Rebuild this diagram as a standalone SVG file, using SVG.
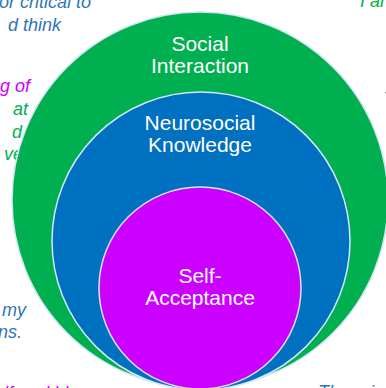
<svg xmlns="http://www.w3.org/2000/svg" width="386" height="388" viewBox="0 0 386 388">
  <style>
    .ring { stroke: #d6e6f4; stroke-width: 1.5; }
    .label { font-family: "Liberation Sans", Arial, sans-serif; font-size: 21px; fill: #ffffff; text-anchor: middle; }
    .side { font-family: "Liberation Sans", Arial, sans-serif; font-size: 18px; font-style: italic; }
    .blue { fill: #2e75b6; }
    .green { fill: #00b050; }
    .magenta { fill: #cc00ff; }
    .end { text-anchor: end; }
  </style>
  <rect width="386" height="388" fill="#ffffff"/>

  <!-- surrounding notes, cut by the frame -->
  <g id="notes">
    <text class="side blue end" x="91" y="8">or critical to</text>
    <text class="side blue end" x="61" y="31">d think</text>
    <text class="side green" x="360" y="7">I an</text>
    <text class="side magenta end" x="30" y="92">g of</text>
    <text class="side green end" x="28" y="115">at</text>
    <text class="side green end" x="22" y="138">d</text>
    <text class="side green end" x="23" y="160">ve</text>
    <text class="side blue" x="383.5" y="105">T</text>
    <text class="side blue end" x="26" y="316">my</text>
    <text class="side blue end" x="22" y="338">ns.</text>
    <text class="side magenta" x="-6" y="399">elf-and ldr</text>
    <text class="side blue" x="318" y="398">There is</text>
  </g>

  <g id="social-interaction">
    <circle class="ring" cx="200" cy="200" r="188" fill="#00b050"/>
    <text class="label" x="200" y="51">Social</text>
    <text class="label" x="200" y="73">Interaction</text>
  </g>

  <g id="neurosocial-knowledge">
    <circle class="ring" cx="201" cy="241" r="149" fill="#0070c0"/>
    <text class="label" x="200" y="130">Neurosocial</text>
    <text class="label" x="200" y="152">Knowledge</text>
  </g>

  <g id="self-acceptance">
    <circle class="ring" cx="200" cy="288" r="101" fill="#cc00ff"/>
    <text class="label" x="200" y="283">Self-</text>
    <text class="label" x="200" y="305">Acceptance</text>
  </g>

  <g id="connectors"/>
</svg>
